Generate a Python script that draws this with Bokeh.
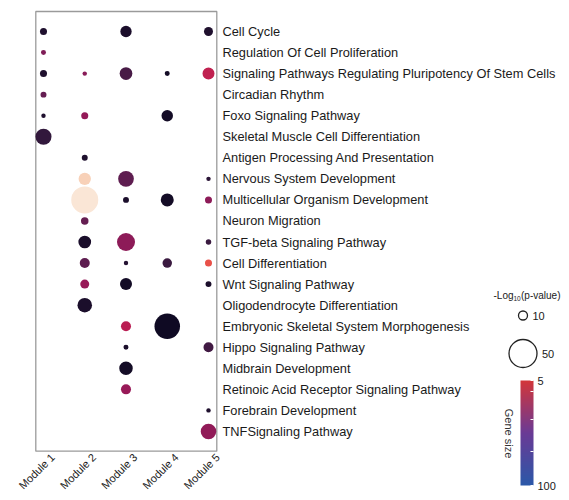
import math
import numpy as np
from bokeh.plotting import figure
from bokeh.models import Range1d, ColumnDataSource, LinearColorMapper, ColorBar, FixedTicker, Label
from bokeh.transform import linear_cmap
from bokeh.core.properties import value
from bokeh.embed import file_html
from bokeh.resources import INLINE

# ---------------- data ----------------
terms = [
    "Cell Cycle",
    "Regulation Of Cell Proliferation",
    "Signaling Pathways Regulating Pluripotency Of Stem Cells",
    "Circadian Rhythm",
    "Foxo Signaling Pathway",
    "Skeletal Muscle Cell Differentiation",
    "Antigen Processing And Presentation",
    "Nervous System Development",
    "Multicellular Organism Development",
    "Neuron Migration",
    "TGF-beta Signaling Pathway",
    "Cell Differentiation",
    "Wnt Signaling Pathway",
    "Oligodendrocyte Differentiation",
    "Embryonic Skeletal System Morphogenesis",
    "Hippo Signaling Pathway",
    "Midbrain Development",
    "Retinoic Acid Receptor Signaling Pathway",
    "Forebrain Development",
    "TNFSignaling Pathway",
]
modules = ["Module 1", "Module 2", "Module 3", "Module 4", "Module 5"]

# one entry per dot: term row (1 = top), module number, -log10(p), colour level (0..1)
dot_row = [1, 1, 1,
           2,
           3, 3, 3, 3, 3,
           4,
           5, 5, 5,
           6,
           7,
           8, 8, 8,
           9, 9, 9, 9,
           10,
           11, 11, 11,
           12, 12, 12, 12,
           13, 13, 13,
           14,
           15, 15,
           16, 16,
           17,
           18,
           19,
           20]
dot_module = [1, 3, 5,
              1,
              1, 2, 3, 4, 5,
              1,
              1, 2, 4,
              1,
              2,
              2, 3, 5,
              2, 3, 4, 5,
              2,
              2, 3, 5,
              2, 3, 4, 5,
              2, 3, 5,
              2,
              3, 4,
              3, 5,
              3,
              3,
              5,
              5]
dot_logp = [8.2, 12.7, 10.0,
            6.8,
            8.2, 6.5, 14.6, 6.8, 13.6,
            7.4,
            6.5, 8.2, 12.9,
            20.0,
            7.4,
            14.0, 19.4, 6.5,
            46.9, 7.4, 15.0, 8.2,
            8.6,
            14.6, 23.8, 7.1,
            11.1, 6.5, 10.5, 8.2,
            10.0, 13.6, 7.4,
            17.4,
            11.1, 42.4,
            6.8, 11.1,
            15.8,
            11.1,
            6.5,
            19.1]
dot_level = [0.05, 0.04, 0.05,
             0.29,
             0.05, 0.32, 0.14, 0.03, 0.48,
             0.22,
             0.05, 0.35, 0.03,
             0.08,
             0.05,
             0.96, 0.20, 0.07,
             0.99, 0.04, 0.03, 0.33,
             0.22,
             0.04, 0.33, 0.10,
             0.20, 0.06, 0.10, 0.66,
             0.36, 0.03, 0.04,
             0.04,
             0.46, 0.02,
             0.04, 0.12,
             0.03,
             0.36,
             0.05,
             0.34]

legend_logp = [10, 50]
legend_logp_labels = ["10", "50"]
gene_size_low, gene_size_high = 5, 100
gene_size_minor = [15, 40, 69]

# ---------------- styles / geometry ----------------
W, H = 561, 492
COL_W, ROW_H = 41.25, 21.05
X1_PX, Y1_PX = 43.0, 31.0
FONT = value("Liberation Sans")
TXT = "#1a1a1a"
LEG_DX = -16  # legend block shifted left so that its texts stay inside the canvas


def dx(px):
    return 1 + (px - X1_PX) / COL_W


def dy(py):
    return 1 + (py - Y1_PX) / ROW_H


def dot_size(v):
    # area-proportional size scale: 10 -> 9 px, 50 -> 28 px
    return math.sqrt(max(17.575 * v - 94.75, 1.0))


def interp_palette(stops, cols, n=256):
    rgb = np.array([[int(c[i:i + 2], 16) for i in (1, 3, 5)] for c in cols], float)
    t = np.linspace(0, 1, n)
    out = []
    for k in range(n):
        r = np.interp(t[k], stops, rgb[:, 0])
        g = np.interp(t[k], stops, rgb[:, 1])
        b = np.interp(t[k], stops, rgb[:, 2])
        out.append("#%02x%02x%02x" % (int(round(r)), int(round(g)), int(round(b))))
    return out


# rocket-like palette for the dots
rocket = interp_palette([0.0, 0.083, 0.25, 0.417, 0.583, 0.75, 0.917, 1.0],
                        ["#03051A", "#35193E", "#701F57", "#AD1759", "#E13342",
                         "#F37651", "#F6B48F", "#FAEBDD"])
bar_palette = interp_palette([0.0, 0.5, 1.0], ["#2B58A8", "#6A3A95", "#D3363A"])

p = figure(width=W, height=H,
           x_range=Range1d(dx(0), dx(W)), y_range=Range1d(dy(H), dy(0)),
           x_axis_type=None, y_axis_type=None,
           output_backend="svg", toolbar_location=None, min_border=0)
p.grid.visible = False
p.outline_line_color = None
p.background_fill_color = "white"

n_mod = len(modules)
n_row = len(terms)

# panel box
p.quad(left=[dx(35.3)], right=[dx(216.3)], top=[dy(11)], bottom=[dy(450.7)],
       fill_color=None, line_color="#9a9a9a", line_width=1.3)

src = ColumnDataSource(dict(x=dot_module, y=dot_row,
                            size=[dot_size(v) for v in dot_logp], level=dot_level))
p.scatter(x="x", y="y", size="size", source=src, line_color=None,
          fill_color=linear_cmap("level", rocket, 0, 1))

# term labels (right of panel)
p.text(x=[dx(222)] * n_row, y=list(range(1, n_row + 1)), text=terms,
       text_font=FONT, text_font_size="12.8px", text_color=TXT,
       text_align="left", text_baseline="middle")

# module labels (rotated 45 degrees)
p.text(x=[i + 1 + 5 / COL_W for i in range(n_mod)], y=[dy(450.5)] * n_mod, text=modules,
       angle=math.pi / 4, text_font=FONT, text_font_size="11px", text_color=TXT,
       text_align="right", text_baseline="top")

# size legend title: -Log10(p-value)
tx = 493
p.text(x=[dx(tx)], y=[dy(295)], text=["-Log"], text_font=FONT, text_font_size="10px",
       text_color=TXT, text_align="left", text_baseline="middle")
p.text(x=[dx(tx + 20)], y=[dy(298)], text=["10"], text_font=FONT, text_font_size="6.5px",
       text_color=TXT, text_align="left", text_baseline="middle")
p.text(x=[dx(tx + 27.5)], y=[dy(295)], text=["(p-value)"], text_font=FONT, text_font_size="10px",
       text_color=TXT, text_align="left", text_baseline="middle")

leg_sizes = [dot_size(v) for v in legend_logp]
leg_cx = 538.5 + LEG_DX
leg_y = [dy(315), dy(353)]
p.scatter(x=[dx(leg_cx)] * 2, y=leg_y, size=leg_sizes, fill_color=None,
          line_color="#222222", line_width=1.3)
p.text(x=[dx(leg_cx + s / 2 + 5) for s in leg_sizes], y=leg_y, text=legend_logp_labels,
       text_font=FONT, text_font_size="11px", text_color=TXT,
       text_align="left", text_baseline="middle")

# colour bar (Gene size: 5 at top, 100 at bottom)
mapper = LinearColorMapper(palette=bar_palette, low=-gene_size_high, high=-gene_size_low)
ticks = [-gene_size_high] + [-v for v in gene_size_minor] + [-gene_size_low]
overrides = {t: "" for t in ticks}
overrides[-gene_size_high] = str(gene_size_high)
overrides[-gene_size_low] = str(gene_size_low)
cb = ColorBar(color_mapper=mapper, width=13, height=105,
              location=(536 + LEG_DX, H - 485),
              ticker=FixedTicker(ticks=ticks), major_label_overrides=overrides,
              major_label_text_font="Liberation Sans", major_label_text_font_size="11px",
              major_label_text_color=TXT, label_standoff=4,
              major_tick_line_color="white", major_tick_in=3, major_tick_out=0,
              bar_line_color=None, border_line_color=None, background_fill_alpha=0,
              padding=0)
p.add_layout(cb, "center")

p.add_layout(Label(x=dx(524 + LEG_DX), y=dy(433), text="Gene size", angle=-math.pi / 2,
                   text_font="Liberation Sans", text_font_size="11px", text_color="#333333",
                   text_align="center", text_baseline="middle"))

open("out.html", "w").write(file_html(p, INLINE))
